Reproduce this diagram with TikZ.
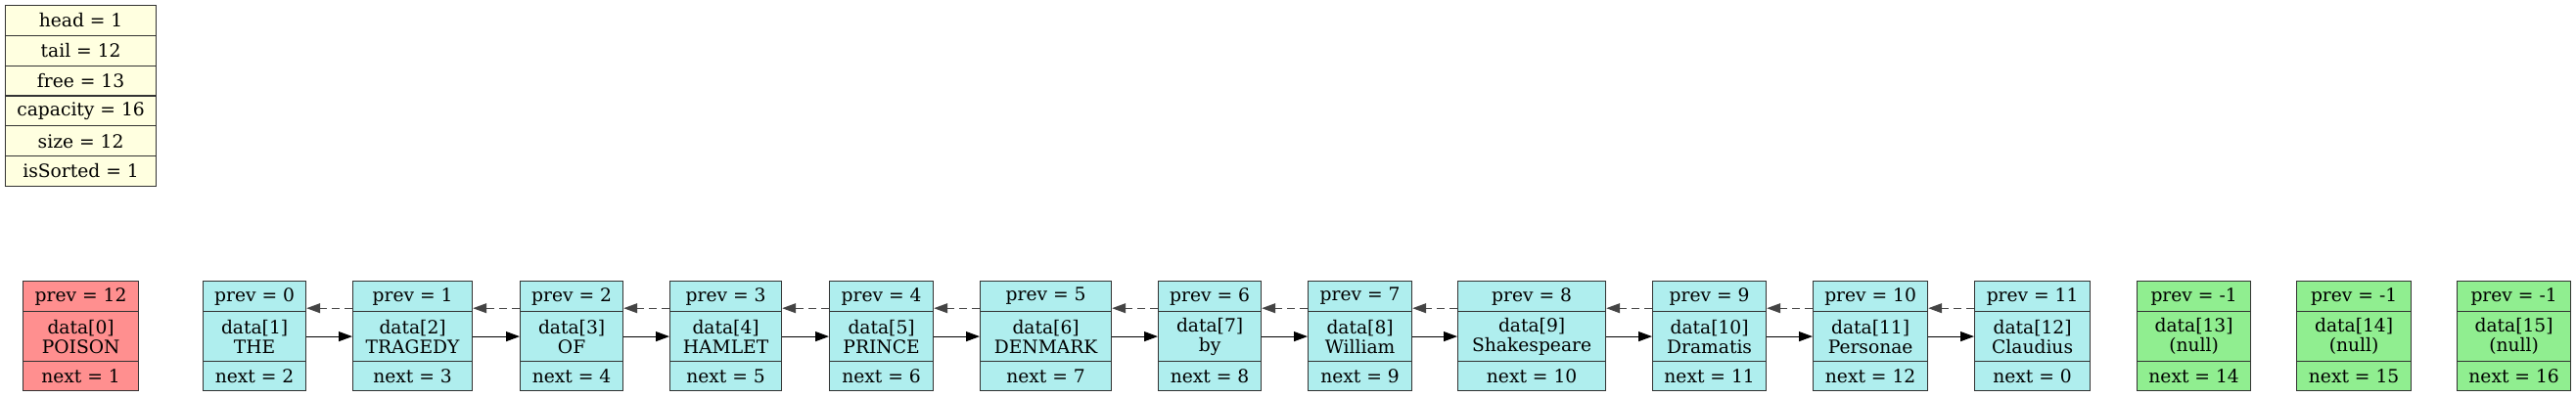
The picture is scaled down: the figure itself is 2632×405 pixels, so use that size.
\documentclass[tikz,border=0pt]{standalone}
\usepackage{fontspec}
\setmainfont{DejaVu Serif}
\usetikzlibrary{arrows.meta}
\definecolor{poisonred}{HTML}{FF8F8F}
\definecolor{usedcyan}{HTML}{AFEEEE}
\definecolor{freegreen}{HTML}{90EE90}
\definecolor{infoyellow}{HTML}{FFFFE0}
\definecolor{edgegray}{HTML}{444444}

\begin{document}
\begin{tikzpicture}[x=1pt,y=-1pt,
    cell/.style={draw=black!80,line width=1.2pt,anchor=north west,inner sep=0pt,
        font=\fontsize{18.67}{20}\selectfont,align=center},
    nextarrow/.style={-{Triangle[length=14pt,width=10pt]},line width=1.1pt},
    prevarrow/.style={-{Triangle[length=14pt,width=10pt]},line width=1.1pt,
        edgegray,dash pattern=on 8pt off 5pt}]
    \useasboundingbox (0,0) rectangle (2632,405);
    % list info
    \foreach \t [count=\k] in {head = 1,tail = 12,free = 13,capacity = 16,size = 12,isSorted = 1}
        \node[cell,fill=infoyellow,minimum width=154pt,minimum height=30.8pt] (info\k)
            at (5,{5+30.8*(\k-1)}) {\t};
    % cells: index/left/width/data/prev/next/colour
    \foreach \i/\l/\w/\word/\pv/\nx/\col in {
        0/23/118/POISON/12/1/poisonred,
        1/207/105/THE/0/2/usedcyan,
        2/360/122/TRAGEDY/1/3/usedcyan,
        3/531/105/OF/2/4/usedcyan,
        4/684/114/HAMLET/3/5/usedcyan,
        5/847/106/PRINCE/4/6/usedcyan,
        6/1001/134/DENMARK/5/7/usedcyan,
        7/1183/105/by/6/8/usedcyan,
        8/1336/106/William/7/9/usedcyan,
        9/1489/151/Shakespeare/8/10/usedcyan,
        10/1688/116/Dramatis/9/11/usedcyan,
        11/1852/117/Personae/10/12/usedcyan,
        12/2017/118/Claudius/11/0/usedcyan,
        13/2183/116/(null)/-1/14/freegreen,
        14/2346/117/(null)/-1/15/freegreen,
        15/2510/116/(null)/-1/16/freegreen}
    {
        \node[cell,fill=\col,minimum width=\w pt,minimum height=31pt] (p\i) at (\l,287) {prev = \pv};
        \node[cell,fill=\col,minimum width=\w pt,minimum height=51pt] (d\i) at (\l,318) {data[\i]\\\word};
        \node[cell,fill=\col,minimum width=\w pt,minimum height=30pt] (n\i) at (\l,369) {next = \nx};
    }
    % next and prev links
    \foreach \i [evaluate=\i as \j using int(\i+1)] in {1,...,11} {
        \draw[nextarrow] (d\i.east) -- (d\j.west);
        \draw[prevarrow] ([yshift=4pt]p\j.south west) -- ([yshift=4pt]p\i.south east);
    }
\end{tikzpicture}
\end{document}
